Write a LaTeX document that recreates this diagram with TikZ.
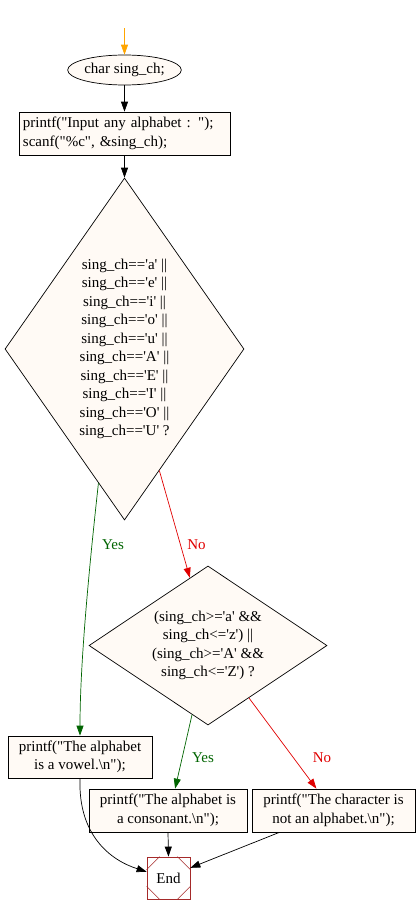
\documentclass[tikz,border=0pt]{standalone}
\usepackage{fontspec}
\setmainfont{Liberation Serif}[Ligatures=TeXOff]
\usetikzlibrary{shapes.geometric,arrows.meta,positioning}
\usepackage{xcolor}

\definecolor{nodefill}{HTML}{FFFAF5}
\definecolor{yesgreen}{HTML}{006400}
\definecolor{nored}{HTML}{E00000}
\definecolor{endbrown}{HTML}{A52A2A}
\definecolor{startorange}{HTML}{FFA500}
\newcommand{\codefont}{\fontsize{15}{18.5}\selectfont}

\tikzset{
    flow/.style={-{Triangle[length=10pt,width=7pt]}, line width=0.7pt},
    codebox/.style={draw, fill=nodefill, rectangle, inner sep=4pt, line width=0.7pt, font=\codefont, align=center},
    decision/.style={draw, fill=nodefill, diamond, inner sep=0pt, line width=0.7pt, font=\codefont, align=center},
    startnode/.style={draw, fill=nodefill, ellipse, inner sep=0pt, line width=0.7pt, font=\codefont, minimum width=103pt, minimum height=30pt},
    yeslabel/.style={font=\codefont, text=yesgreen},
    nolabel/.style={font=\codefont, text=nored},
    endbox/.style={draw=endbrown, fill=white, rectangle, inner sep=0pt, line width=0.7pt, font=\codefont, minimum width=43pt, minimum height=42pt}
}

\begin{document}
\begin{tikzpicture}[x=1pt, y=-1pt]
            \useasboundingbox (0,0) rectangle (417,913);

            % Nodes
            \coordinate (entry) at (124.5,28);
            \node[startnode] (decl) at (124.5,70) {char sing\_ch;};
            \node[codebox, text width=203pt, align=left, minimum height=43pt] (input) at (124.5,133.5)
                {printf("Input any alphabet : ");\\scanf("\%c", \&sing\_ch);};
            \node[decision, shape aspect=0.7, minimum width=239pt, minimum height=342pt] (isvowel) at (124.5,349)
                {sing\_ch=='a' ||\\sing\_ch=='e' ||\\sing\_ch=='i' ||\\sing\_ch=='o' ||\\sing\_ch=='u' ||\\
                 sing\_ch=='A' ||\\sing\_ch=='E' ||\\sing\_ch=='I' ||\\sing\_ch=='O' ||\\sing\_ch=='U' ?};
            \node[decision, shape aspect=1.5, minimum width=238pt, minimum height=159pt] (isalpha) at (208,645.5)
                {(sing\_ch>='a' \&\&\\sing\_ch<='z') ||\\(sing\_ch>='A' \&\&\\sing\_ch<='Z') ?};
            \node[codebox, minimum width=144pt, minimum height=42pt] (vowel) at (80,757)
                {printf("The alphabet\\is a vowel.\textbackslash n");};
            \node[codebox, minimum width=158pt, minimum height=43pt] (consonant) at (168,810.5)
                {printf("The alphabet is\\a consonant.\textbackslash n");};
            \node[codebox, minimum width=163pt, minimum height=43pt] (notalpha) at (333.5,810.5)
                {printf("The character is\\not an alphabet.\textbackslash n");};
            \node[endbox] (end) at (168.5,878) {End};

            % Corner cuts of the end box
            \foreach \c/\dx/\dy in {north west/1/-1, north east/-1/-1, south west/1/1, south east/-1/1} {
                \draw[endbrown, line width=0.6pt] ([yshift=\dy*13pt]end.\c) -- ([xshift=\dx*13pt]end.\c);
            }

            % Edges
            \draw[flow, startorange] (entry) -- (decl);
            \draw[flow] (decl) -- (input);
            \draw[flow] (input) -- (isvowel);
            \draw[flow, yesgreen] (isvowel.259) .. controls (90,560) and (80,660) .. (vowel.north);
            \draw[flow, nored] (isvowel.286) -- (isalpha.105);
            \draw[flow, yesgreen] (isalpha.257) -- (consonant.72);
            \draw[flow, nored] (isalpha.308) -- (notalpha.128);
            \draw[flow] (vowel.south) .. controls (78,835) and (110,860) .. (end.164);
            \draw[flow] (consonant.south) -- (end.north);
            \draw[flow] (notalpha.202) -- (end.25);

            % Edge labels
            \node[yeslabel] (yes1) at (113,545) {Yes};
            \node[nolabel] (no1) at (196.5,545) {No};
            \node[yeslabel] (yes2) at (203,758) {Yes};
            \node[nolabel] (no2) at (322,758) {No};
\end{tikzpicture}
\end{document}
